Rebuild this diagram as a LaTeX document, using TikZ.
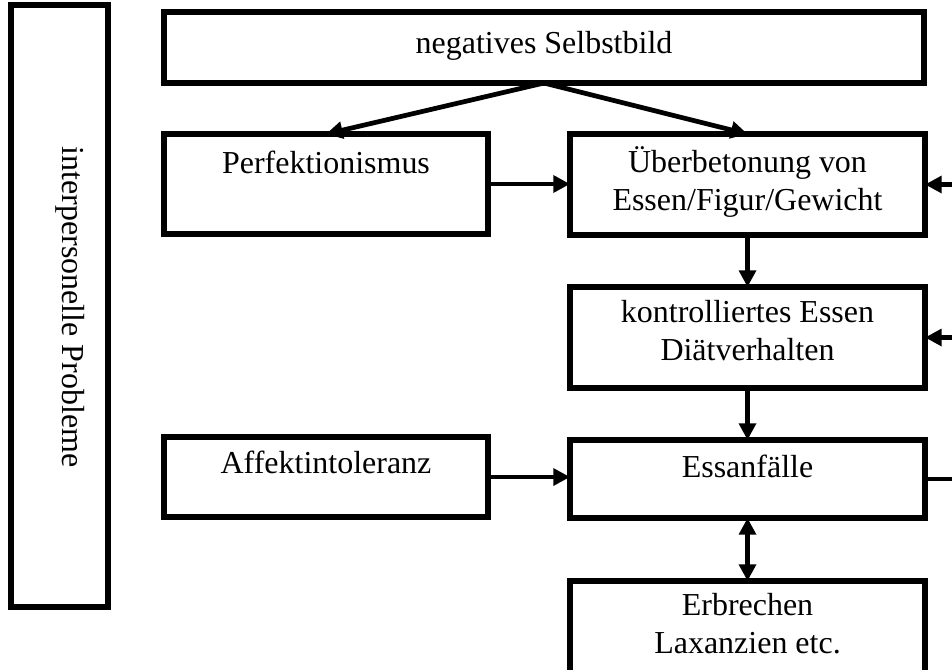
\documentclass[tikz,border=0pt]{standalone}
\usepackage{fontspec}
\setmainfont{Liberation Serif}
\usetikzlibrary{arrows.meta}
\begin{document}
\begin{tikzpicture}[x=0.02cm,y=-0.02cm,
  boxnode/.style={draw,line width=3pt,inner sep=0pt,outer sep=0pt,rectangle},
  txt/.style={inner sep=0pt,align=center,font=\fontsize{18.2pt}{21.6pt}\selectfont,anchor=base},
  conn/.style={line width=2.7pt,-{Triangle[length=9.5pt,width=9.5pt]}},
  dconn/.style={line width=2.7pt,{Triangle[length=9.5pt,width=9.5pt]}-{Triangle[length=9.5pt,width=9.5pt]}}]
\useasboundingbox (0,0) rectangle (952,669);
% boxes
\node[boxnode,minimum width={97*0.02cm},minimum height={602*0.02cm}] (ip) at (59.5,306) {};
\node[boxnode,minimum width={760*0.02cm},minimum height={71*0.02cm}] (top) at (544,47.5) {};
\node[boxnode,minimum width={324*0.02cm},minimum height={100*0.02cm}] (perf) at (326,184) {};
\node[boxnode,minimum width={355*0.02cm},minimum height={101*0.02cm}] (uber) at (747.5,184.5) {};
\node[boxnode,minimum width={355*0.02cm},minimum height={101*0.02cm}] (kontr) at (747.5,337.5) {};
\node[boxnode,minimum width={324*0.02cm},minimum height={80*0.02cm}] (aff) at (326,477) {};
\node[boxnode,minimum width={355*0.02cm},minimum height={78*0.02cm}] (ess) at (747.5,479) {};
\node[boxnode,minimum width={355*0.02cm},minimum height={101*0.02cm}] (erb) at (747.5,631.5) {};
% texts
\node[txt,rotate=-90,anchor=center] (ipt) at (70,307) {interpersonelle Probleme};
\node[txt] (topt) at (544,54) {negatives Selbstbild};
\node[txt] (perft) at (326,173) {Perfektionismus};
\node[txt] (ubert) at (747.5,210) {Überbetonung von\\Essen/Figur/Gewicht};
\node[txt] (kontrt) at (747.5,360) {kontrolliertes Essen\\Diätverhalten};
\node[txt] (afft) at (326,473) {Affektintoleranz};
\node[txt] (esst) at (747.5,477) {Essanfälle};
\node[txt] (erbt) at (747.5,653) {Erbrechen\\Laxanzien etc.};
% connectors
\draw[conn] (top.south) -- (perf.north);
\draw[conn] (top.south) -- (uber.north);
\draw[conn] (perf.east) -- (perf.east -| uber.west);
\draw[conn] (uber.south) -- (kontr.north);
\draw[conn] (kontr.south) -- (ess.north);
\draw[conn] (aff.east) -- (aff.east -| ess.west);
\draw[dconn] (ess.south) -- (erb.north);
\coordinate (loop) at (990,479);
\draw[line width=2.7pt] (ess.east) -- (loop);
\draw[conn] (loop) |- (uber.east);
\draw[conn] (loop |- kontr.east) -- (kontr.east);
\end{tikzpicture}
\end{document}
